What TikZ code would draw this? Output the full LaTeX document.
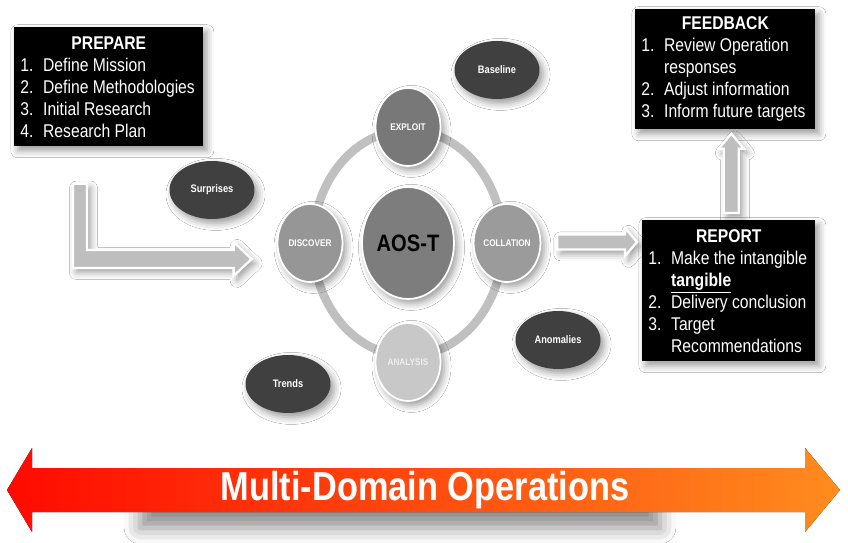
\documentclass[tikz,border=0pt]{standalone}
\usepackage{fontspec}
\setmainfont{Liberation Sans}[FakeStretch=0.85]
\usetikzlibrary{calc}
\usetikzlibrary{shapes.geometric}
\usetikzlibrary{shadows.blur}
\definecolor{ovalgray}{RGB}{64,64,64}
\definecolor{ringgray}{RGB}{192,192,192}
\definecolor{arrowgray}{RGB}{190,190,190}
\definecolor{mdored}{RGB}{255,10,0}
\definecolor{mdoorange}{RGB}{255,140,30}
\tikzset{
  softshadow/.style={blur shadow={shadow xshift=2pt,shadow yshift=-2.5pt,shadow blur radius=4pt,shadow opacity=40}},
  infobox/.style={fill=black,text=white,anchor=north west,inner xsep=3.4pt,inner ysep=2pt,align=left,
    font=\fontsize{10.5}{12.5}\selectfont,softshadow},
  stage/.style={ellipse,draw=white,line width=1pt,inner sep=0pt,minimum width=1.3cm,minimum height=1.56cm,
    text=white,font=\bfseries\fontsize{5.5}{6}\selectfont,softshadow},
  oval/.style={ellipse,fill=ovalgray,inner sep=0pt,minimum width=1.7cm,minimum height=1.16cm,
    text=white,font=\bfseries\fontsize{6.2}{7}\selectfont,softshadow},
  hollow/.style={fill=arrowgray,draw=white,line width=1.3pt,line join=miter,softshadow}
}
\newcommand{\li}[2]{\makebox[13pt][l]{#1}#2}
\newcommand{\ttl}[2]{\makebox[#1]{\textbf{#2}}}

\begin{document}
\begin{tikzpicture}[x=0.02cm,y=-0.02cm]
\useasboundingbox[fill=white] (0,0) rectangle (848,543);

\pgfmathsetmacro{\sh}{7.5}
\pgfmathsetmacro{\hh}{14}
\pgfmathsetmacro{\hl}{12}

  \node[infobox,minimum height=2.38cm] (prepare) at (14,27)
    {\ttl{3.54cm}{PREPARE}\\
     \li{1.}{Define Mission}\\
     \li{2.}{Define Methodologies}\\
     \li{3.}{Initial Research}\\
     \li{4.}{Research Plan}};
  \node[infobox,minimum height=2.4cm] (feedback) at (635,9)
    {\ttl{3.36cm}{FEEDBACK}\\
     \li{1.}{Review Operation}\\
     \li{}{responses}\\
     \li{2.}{Adjust information}\\
     \li{3.}{Inform future targets}};
  \node[infobox,minimum height=2.82cm] (report) at (642,220)
    {\ttl{3.22cm}{REPORT}\\
     \li{1.}{Make the intangible}\\
     \li{}{\underline{\textbf{tangible}}}\\
     \li{2.}{Delivery conclusion}\\
     \li{3.}{Target}\\
     \li{}{Recommendations}};

  \draw[ringgray,line width=0.17cm] (408,243) ellipse [x radius=1.9cm,y radius=2.26cm];

  \node[stage,fill={rgb,255:red,120;green,120;blue,120}] (exploit) at (408,127) {EXPLOIT};
  \node[stage,fill={rgb,255:red,150;green,150;blue,150}] (discover) at (310,243) {DISCOVER};
  \node[stage,fill={rgb,255:red,155;green,155;blue,155}] (collation) at (507,243) {COLLATION};
  \node[stage,fill={rgb,255:red,200;green,200;blue,200},text={rgb,255:red,238;green,238;blue,238}] (analysis) at (408,362) {ANALYSIS};
  \node[stage,fill={rgb,255:red,125;green,125;blue,125},text=black,minimum width=1.84cm,minimum height=2.24cm,
    font=\bfseries\fontsize{13.5}{15}\selectfont] (aost) at (408,243) {AOS-T};

  \node[oval] (baseline) at (497,70) {Baseline};
  \node[oval] (surprises) at (212,190) {Surprises};
  \node[oval] (anomalies) at (558,340) {Anomalies};
  \node[oval] (trends) at (288,384) {Trends};

  \coordinate (ra) at ($(collation.east)+(16,-1)$);
  \coordinate (rb) at ($(report.west |- ra)+(-5,0)$);
  \draw[hollow] ($(ra)+(0,-\sh)$) -- ($(rb)+(-\hl,-\sh)$) -- ($(rb)+(-\hl,-\hh)$) -- (rb)
    -- ($(rb)+(-\hl,\hh)$) -- ($(rb)+(-\hl,\sh)$) -- ($(ra)+(0,\sh)$) -- cycle;

  \coordinate (ua) at ($(report.north)+(2.5,-7)$);
  \coordinate (ub) at ($(ua |- feedback.south)+(0,4)$);
  \draw[hollow] ($(ua)+(-\sh,0)$) -- ($(ub)+(-\sh,15)$) -- ($(ub)+(-12.5,15)$) -- (ub)
    -- ($(ub)+(12.5,15)$) -- ($(ub)+(\sh,15)$) -- ($(ua)+(\sh,0)$) -- cycle;

  \coordinate (la) at ($(prepare.south west)+(66,37)$);
  \coordinate (lb) at ($(discover.west)+(-25,16)$);
  \draw[hollow] ($(la)+(-7,0)$) -- ($(la |- lb)+(-7,9)$) -- ($(lb)+(-18,9)$) -- ($(lb)+(-18,17)$) -- (lb)
    -- ($(lb)+(-18,-17)$) -- ($(lb)+(-18,-9)$) -- ($(la |- lb)+(7,-9)$) -- ($(la)+(7,0)$) -- cycle;

  \path[blur shadow={shadow xshift=0pt,shadow yshift=0pt,shadow blur radius=9pt,shadow opacity=45}]
    (140,500) rectangle (660,528);
  \fill[left color=mdored,right color=mdoorange]
    (7,490) -- (32,448) -- (32,468) -- (805,468) -- (805,448) -- (840,490) -- (805,532)
    -- (805,512) -- (32,512) -- (32,532) -- cycle;
  \node[text=white,font=\bfseries\fontsize{23}{26}\selectfont] (mdo) at (425,490) {Multi-Domain Operations};

\end{tikzpicture}
\end{document}
